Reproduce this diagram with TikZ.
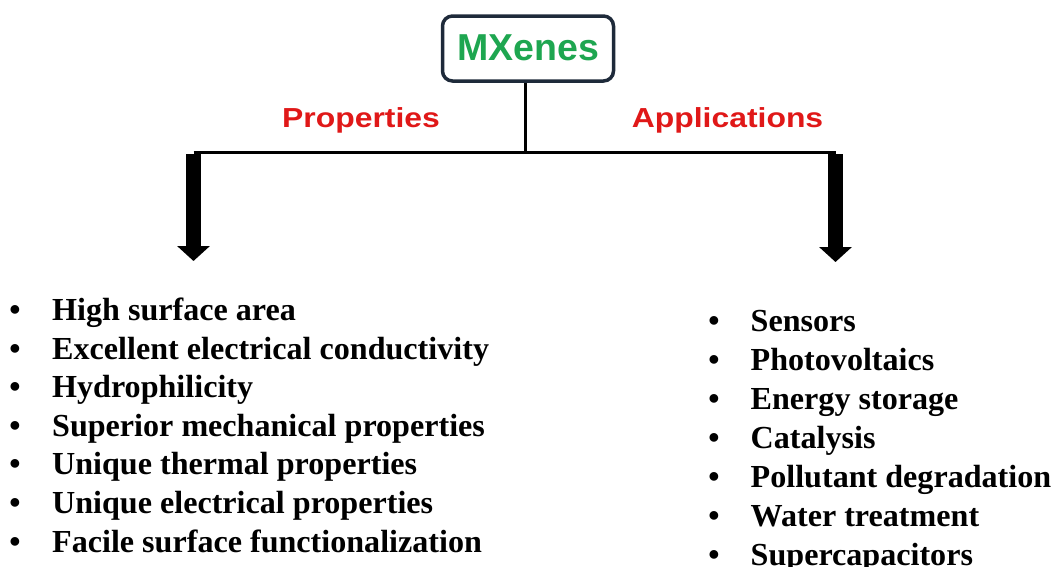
\documentclass[tikz,border=0pt]{standalone}
\usepackage{fontspec}
\usepackage{graphicx}
\setmainfont{Liberation Serif}
\newfontfamily\headfont{Liberation Sans}
\usetikzlibrary{arrows.meta}
\definecolor{boxline}{RGB}{30,42,58}
\definecolor{mxgreen}{RGB}{30,166,80}
\definecolor{labred}{RGB}{224,24,24}
\tikzset{
  rootbox/.style={draw=boxline, line width=3.5pt, rounded corners=10pt, fill=white,
    minimum width=171pt, minimum height=65pt, inner sep=0pt},
  branchlabel/.style={anchor=base, inner sep=0pt, text=labred,
    font=\headfont\bfseries\fontsize{27.5}{30}\selectfont},
  trunk/.style={line width=3pt},
  bigarrow/.style={line width=15pt, line cap=butt, -{Triangle[width=32pt,length=15pt]}},
  item/.style={anchor=base west, inner sep=0pt, font=\bfseries\fontsize{32.1}{36}\selectfont},
  bullet/.style={anchor=base, inner sep=0pt, font=\bfseries\fontsize{32.1}{36}\selectfont}
}
\begin{document}
\begin{tikzpicture}[x=1pt, y=-1pt]
\useasboundingbox (0,0) rectangle (1054,566);

% root node
\node[rootbox] (mx) at (528,48.5) {};
\node[anchor=base, inner sep=0pt, text=mxgreen,
  font=\headfont\bfseries\fontsize{37.5}{40}\selectfont] (mxtext) at (528,60) {MXenes};

% branch labels
\node[branchlabel] (prop) at (361,127) {\scalebox{1.16}[1]{Properties}};
\node[branchlabel] (app) at (727.5,127) {\scalebox{1.16}[1]{Applications}};

% trunk and branches
\coordinate (j) at (525,152.5);
\coordinate (lt) at (193.5,152.5);
\coordinate (rt) at (835.5,152.5);
\coordinate (le) at (193.5,261);
\coordinate (re) at (835.5,262);
\draw[trunk] (mx.south -| j) -- (j);
\draw[trunk] (lt) -- (rt);
\draw[bigarrow] ([yshift=-1.5pt]lt) -- (le);
\draw[bigarrow] ([yshift=-1.5pt]rt) -- (re);

% properties list
\foreach \t [count=\i] in {High surface area, Excellent electrical conductivity,
  Hydrophilicity, Superior mechanical properties, Unique thermal properties,
  Unique electrical properties, Facile surface functionalization}{
  \node[bullet] (pb\i) at (15,{320.5+38.6*(\i-1)}) {•};
  \node[item] (pi\i) at (52,{320.5+38.6*(\i-1)}) {\t};
}

% applications list
\foreach \t [count=\i] in {Sensors, Photovoltaics, Energy storage, Catalysis,
  Pollutant degradation, Water treatment, Supercapacitors}{
  \node[bullet] (ab\i) at (714,{331.7+39.0*(\i-1)}) {•};
  \node[item] (ai\i) at (750.5,{331.7+39.0*(\i-1)}) {\t};
}
\end{tikzpicture}
\end{document}
